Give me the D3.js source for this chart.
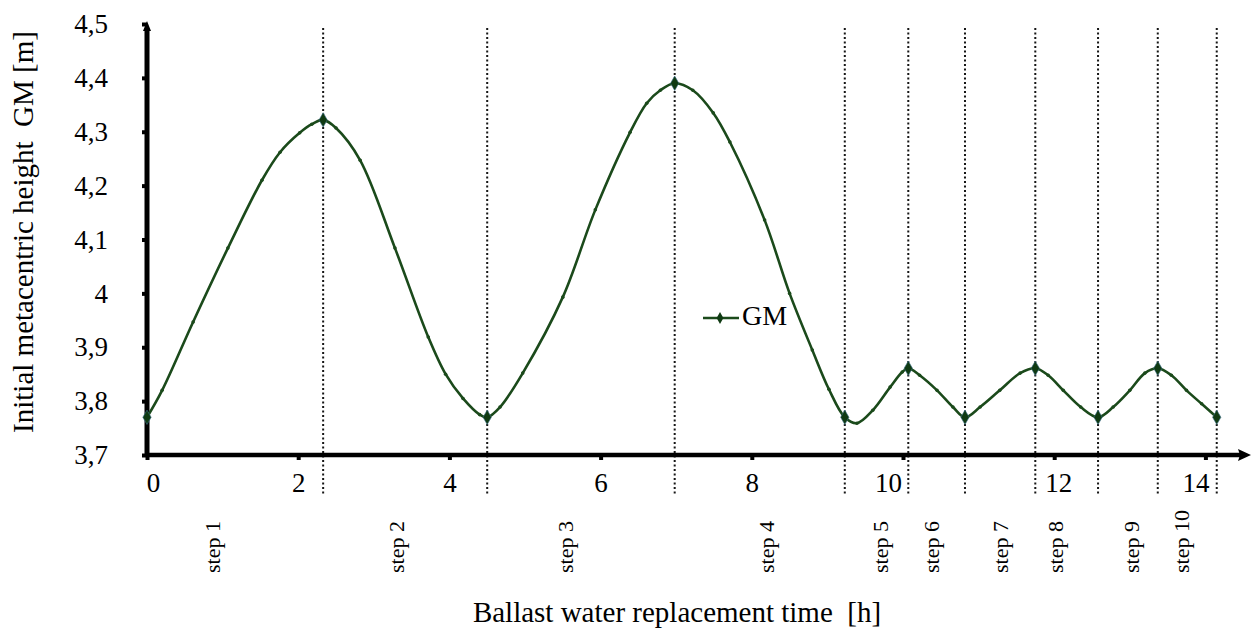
<!DOCTYPE html>
<html>
<head>
<meta charset="utf-8">
<script src="https://cdn.jsdelivr.net/npm/d3@7"></script>
<style>
  body { margin: 0; background: #fff; }
  text { font-family: "Liberation Serif", "Times New Roman", serif; fill: #000; white-space: pre; }
</style>
</head>
<body>
<svg id="chart" width="1253" height="630"></svg>
<script>
// GM curve (time in hours, GM in metres)
const timeH = [0, 0.2, 0.61, 1.07, 1.52, 1.76, 2.02, 2.18, 2.33, 2.5, 2.82, 3.28, 3.72, 3.95, 4.18, 4.4, 4.5,
  4.67, 4.97, 5.5, 5.93, 6.39, 6.61, 6.79, 6.98, 7.22, 7.49, 7.71, 8.17, 8.5, 8.8, 9.02, 9.23,
  9.39, 9.6, 9.83, 9.99, 10.07, 10.22, 10.45, 10.66, 10.82, 11.02, 11.28, 11.55, 11.75,
  11.92, 12.12, 12.35, 12.58, 12.78, 13.0, 13.2, 13.37, 13.55, 13.75, 13.95, 14.15];
const gmValues = [3.77, 3.82, 3.947, 4.084, 4.21, 4.262, 4.298, 4.314, 4.322, 4.307, 4.247, 4.084, 3.919, 3.85, 3.805, 3.775, 3.77,
  3.789, 3.852, 3.993, 4.155, 4.299, 4.353, 4.377, 4.39, 4.377, 4.335, 4.281, 4.136, 4.0, 3.895, 3.822, 3.77,
  3.759, 3.783, 3.826, 3.854, 3.861, 3.848, 3.82, 3.789, 3.77, 3.789, 3.82, 3.852, 3.861,
  3.848, 3.82, 3.789, 3.77, 3.789, 3.82, 3.852, 3.861, 3.848, 3.82, 3.795, 3.77];

// end of each ballast step (dotted lines)
const stepEnds = [2.33, 4.5, 6.98, 9.23, 10.07, 10.82, 11.75, 12.58, 13.37, 14.15];
const stepNames = ["step 1", "step 2", "step 3", "step 4", "step 5", "step 6", "step 7", "step 8", "step 9", "step 10"];
const stepLabelAt = [0.97, 3.40, 5.63, 8.29, 9.80, 10.48, 11.39, 12.12, 13.12, 13.78];

const xTicks = [0, 2, 4, 6, 8, 10, 12, 14];
const yTicks = [3.7, 3.8, 3.9, 4.0, 4.1, 4.2, 4.3, 4.4, 4.5];
const yTickLabels = ["3,7", "3,8", "3,9", "4", "4,1", "4,2", "4,3", "4,4", "4,5"];

const seriesName = "GM";
const xTitle = "Ballast water replacement time  [h]";
const yTitle = "Initial metacentric height  GM [m]";

const lineColor = "#1b4a1b";
const svg = d3.select("#chart");

const x = d3.scaleLinear().domain([0, 14]).range([147, 1205.4]);
const y = d3.scaleLinear().domain([3.7, 4.5]).range([455, 24]);

const points = timeH.map((t, i) => ({ t: t, v: gmValues[i] }));
const keyTimes = new Set([0].concat(stepEnds));

// step boundaries
svg.append("g")
  .selectAll("line")
  .data(stepEnds)
  .enter()
  .append("line")
  .attr("x1", d => x(d))
  .attr("x2", d => x(d))
  .attr("y1", y(4.5) + 4)
  .attr("y2", 494)
  .attr("stroke", "#151515")
  .attr("stroke-width", 2)
  .attr("stroke-dasharray", "2,2.5");

// axes
const yAxis = svg.append("g")
  .attr("transform", "translate(147,0)")
  .call(d3.axisLeft(y).tickValues(yTicks).tickFormat((d, i) => yTickLabels[i]).tickSize(5).tickPadding(34));
yAxis.select(".domain").remove();
yAxis.selectAll(".tick line").attr("stroke", "#000").attr("stroke-width", 4);
yAxis.selectAll(".tick text").style("font-size", "27px").style("font-family", "Liberation Serif");

// the source nudges a few labels off their ticks
const xLabelNudge = { 0: 6, 10: -15, 12: 4, 14: -10 };
const xAxis = svg.append("g")
  .attr("transform", "translate(0,455)")
  .call(d3.axisBottom(x).tickValues(xTicks).tickFormat(d3.format("d")).tickSize(5).tickPadding(13));
xAxis.select(".domain").remove();
xAxis.selectAll(".tick line").attr("stroke", "#000").attr("stroke-width", 4);
xAxis.selectAll(".tick text")
  .attr("dx", d => xLabelNudge[d] || 0)
  .style("font-size", "27px").style("font-family", "Liberation Serif");

// thick axis lines with arrows
svg.append("line").attr("x1", 147).attr("x2", 1240).attr("y1", 455).attr("y2", 455)
  .attr("stroke", "#000").attr("stroke-width", 4.5);
svg.append("path").attr("d", "M1251,455 L1238,449 L1240,455 L1238,461 Z").attr("fill", "#000");
svg.append("line").attr("x1", 147).attr("x2", 147).attr("y1", 457).attr("y2", 30)
  .attr("stroke", "#000").attr("stroke-width", 5);
svg.append("path").attr("d", "M147,21 L151,31 L143,31 Z").attr("fill", "#000");

// curve
svg.append("path")
  .datum(points)
  .attr("fill", "none")
  .attr("stroke", lineColor)
  .attr("stroke-width", 2.6)
  .attr("d", d3.line().x(d => x(d.t)).y(d => y(d.v)).curve(d3.curveCatmullRom.alpha(0.5)));

svg.append("g")
  .selectAll("circle")
  .data(points.filter(d => !keyTimes.has(d.t)))
  .enter()
  .append("circle")
  .attr("cx", d => x(d.t))
  .attr("cy", d => y(d.v))
  .attr("r", 1.8)
  .attr("fill", lineColor);

svg.append("g")
  .selectAll("path")
  .data(points.filter(d => keyTimes.has(d.t)))
  .enter()
  .append("path")
  .attr("transform", d => `translate(${x(d.t)},${y(d.v)})`)
  .attr("d", d3.symbol(d3.symbolDiamond, 60))
  .attr("fill", "#0f3a12")
  .attr("stroke", "#3a6f8a")
  .attr("stroke-width", 0.6);

// step labels
svg.append("g")
  .selectAll("text")
  .data(stepNames)
  .enter()
  .append("text")
  .attr("transform", (d, i) => `translate(${x(stepLabelAt[i])},573) rotate(-90)`)
  .attr("text-anchor", "start")
  .style("font-size", "22px")
  .text(d => d);

// legend
svg.append("line").attr("x1", 703).attr("x2", 739).attr("y1", 318).attr("y2", 318)
  .attr("stroke", lineColor).attr("stroke-width", 2.6);
svg.append("path").attr("transform", "translate(720,318)")
  .attr("d", d3.symbol(d3.symbolDiamond, 40)).attr("fill", "#0f3a12");
svg.append("text").attr("x", 742).attr("y", 325).style("font-size", "28px").text(seriesName);

// titles
svg.append("text")
  .attr("x", 677).attr("y", 622)
  .attr("text-anchor", "middle")
  .style("font-size", "29px")
  .text(xTitle);

svg.append("text")
  .attr("transform", "translate(33,232) rotate(-90)")
  .attr("text-anchor", "middle")
  .style("font-size", "29px")
  .text(yTitle);
</script>
</body>
</html>
